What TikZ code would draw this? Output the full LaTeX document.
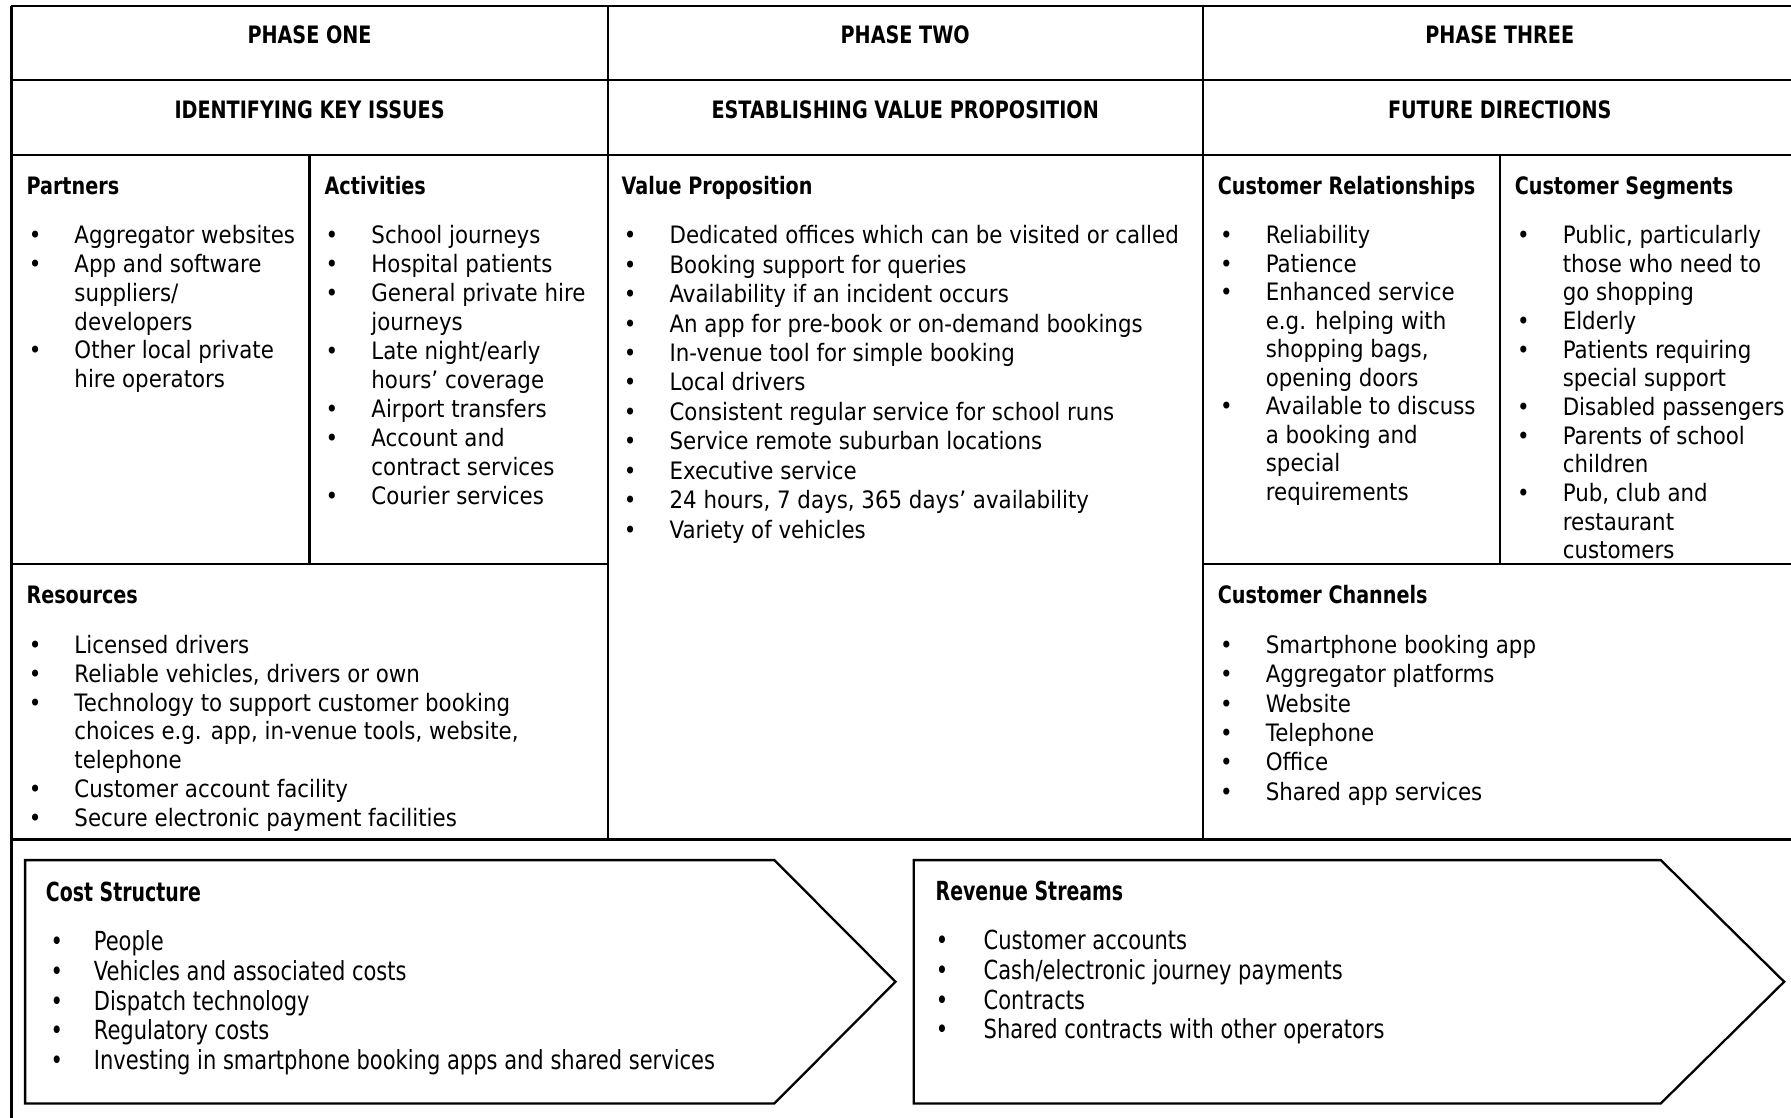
\documentclass[tikz,border=0pt]{standalone}
\usepackage{fontspec}
\setmainfont{DejaVu Sans}[FakeStretch=0.89]
\newfontfamily\hdfont{DejaVu Sans}[FakeStretch=0.80]
\newfontfamily\lowfont{DejaVu Sans}[FakeStretch=0.80]
\newfontfamily\lowhdfont{DejaVu Sans}[FakeStretch=0.72]

% bullet hanging to the left of the item text
\newcommand\bl{\strut\llap{\textbullet\hspace{29pt}}}
\newcommand\blow{\strut\llap{\textbullet\hspace{27pt}}}
\newcommand\blrev{\strut\llap{\textbullet\hspace{31pt}}}

\tikzset{
  rule/.style={line width=2pt},
  phasehd/.style={anchor=base, inner sep=0pt, font=\hdfont\bfseries\fontsize{21}{25.5}\selectfont},
  cellhd/.style={anchor=base west, inner sep=0pt, font=\hdfont\bfseries\fontsize{21}{25.5}\selectfont},
  cellbody/.style={anchor=north west, inner sep=0pt, align=left, font=\fontsize{21}{25.5}\selectfont},
  rowpitch/.style={font=\fontsize{21}{#1}\selectfont},
  lowhd/.style={anchor=base west, inner sep=0pt, font=\lowhdfont\bfseries\fontsize{23}{26}\selectfont},
  lowbody/.style={anchor=north west, inner sep=0pt, align=left, font=\lowfont\fontsize{23}{26}\selectfont},
  chevron/.style={draw, line width=2pt, line join=miter},
}

\begin{document}
\begin{tikzpicture}[x=1pt, y=-1pt]
\useasboundingbox (0,0) rectangle (1568,978);

% table rules
\draw[rule] (10,5) -- (1572,5);
\draw[rule] (10,70) -- (1572,70);
\draw[rule] (10,136) -- (1572,136);
\draw[rule] (10,735) -- (1572,735);
\draw[rule] (10,494) -- (532,494);
\draw[rule] (1053,494) -- (1572,494);
\draw[rule] (10,5) -- (10,982);
\draw[rule] (532,5) -- (532,735);
\draw[rule] (1053,5) -- (1053,735);
\draw[rule] (271,136) -- (271,494);
\draw[rule] (1313,136) -- (1313,494);

% phase titles
\node[phasehd] (p1) at (271,38) {PHASE ONE};
\node[phasehd] (p2) at (792.5,38) {PHASE TWO};
\node[phasehd] (p3) at (1313,38) {PHASE THREE};
\node[phasehd] (s1) at (271,104) {IDENTIFYING KEY ISSUES};
\node[phasehd] (s2) at (792.5,104) {ESTABLISHING VALUE PROPOSITION};
\node[phasehd] (s3) at (1313,104) {FUTURE DIRECTIONS};

% upper cells
\node[cellhd] (hpart) at (23,170) {Partners};
\node[cellbody, rowpitch=25.2] (lpart) at (65,195.5) {\bl Aggregator websites\\
\bl App and software\\
\strut suppliers/\\
\strut developers\\
\bl Other local private\\
\strut hire operators};

\node[cellhd] (hact) at (284,170) {Activities};
\node[cellbody, rowpitch=25.4] (lact) at (325,195.5) {\bl School journeys\\
\bl Hospital patients\\
\bl General private hire\\
\strut journeys\\
\bl Late night/early\\
\strut hours’ coverage\\
\bl Airport transfers\\
\bl Account and\\
\strut contract services\\
\bl Courier services};

\node[cellhd] (hval) at (544,170) {Value Proposition};
\node[cellbody, rowpitch=25.8] (lval) at (586,195) {\bl Dedicated offices which can be visited or called\\
\bl Booking support for queries\\
\bl Availability if an incident occurs\\
\bl An app for pre-book or on-demand bookings\\
\bl In-venue tool for simple booking\\
\bl Local drivers\\
\bl Consistent regular service for school runs\\
\bl Service remote suburban locations\\
\bl Executive service\\
\bl 24 hours, 7 days, 365 days’ availability\\
\bl Variety of vehicles};

\node[cellhd] (hrel) at (1066,170) {Customer Relationships};
\node[cellbody, rowpitch=25.0] (lrel) at (1108,195.5) {\bl Reliability\\
\bl Patience\\
\bl Enhanced service\\
\strut e.g. helping with\\
\strut shopping bags,\\
\strut opening doors\\
\bl Available to discuss\\
\strut a booking and\\
\strut special\\
\strut requirements};

\node[cellhd] (hseg) at (1326,170) {Customer Segments};
\node[cellbody, rowpitch=25.1] (lseg) at (1368,195.5) {\bl Public, particularly\\
\strut those who need to\\
\strut go shopping\\
\bl Elderly\\
\bl Patients requiring\\
\strut special support\\
\bl Disabled passengers\\
\bl Parents of school\\
\strut children\\
\bl Pub, club and\\
\strut restaurant\\
\strut customers};

% middle cells
\node[cellhd] (hres) at (23,528) {Resources};
\node[cellbody, rowpitch=25.3] (lres) at (65,554) {\bl Licensed drivers\\
\bl Reliable vehicles, drivers or own\\
\bl Technology to support customer booking\\
\strut choices e.g. app, in-venue tools, website,\\
\strut telephone\\
\bl Customer account facility\\
\bl Secure electronic payment facilities};

\node[cellhd] (hchan) at (1066,528) {Customer Channels};
\node[cellbody, rowpitch=25.8] (lchan) at (1108,553.5) {\bl Smartphone booking app\\
\bl Aggregator platforms\\
\bl Website\\
\bl Telephone\\
\bl Office\\
\bl Shared app services};

% lower chevrons
\draw[chevron] (22,753) -- (678,753) -- (784,859.5) -- (678,966) -- (22,966) -- cycle;
\draw[chevron] (800,753) -- (1454,753) -- (1562,859.5) -- (1454,966) -- (800,966) -- cycle;

\node[lowhd] (hcost) at (40,789.5) {Cost Structure};
\node[lowbody] (lcost) at (82,814) {\blow People\\
\blow Vehicles and associated costs\\
\blow Dispatch technology\\
\blow Regulatory costs\\
\blow Investing in smartphone booking apps and shared services};

\node[lowhd] (hrev) at (819,788.5) {Revenue Streams};
\node[lowbody] (lrev) at (861,813) {\blrev Customer accounts\\
\blrev Cash/electronic journey payments\\
\blrev Contracts\\
\blrev Shared contracts with other operators};
\end{tikzpicture}
\end{document}
